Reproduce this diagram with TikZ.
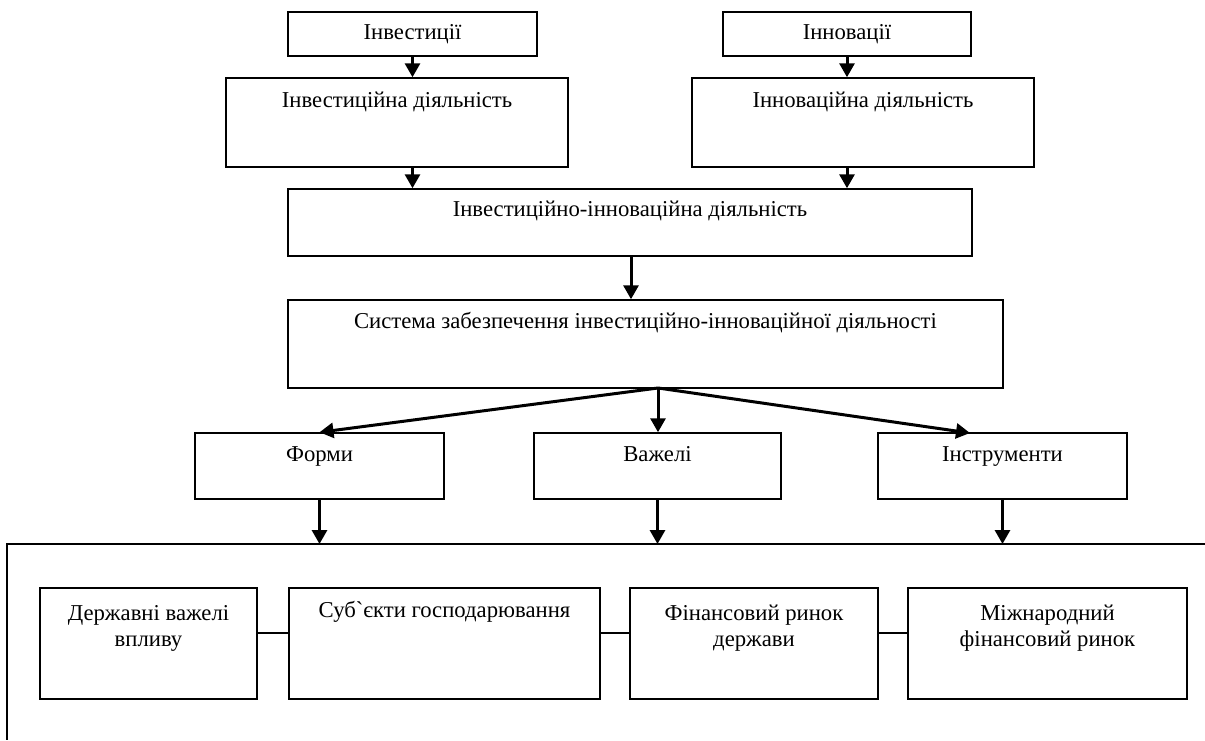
\documentclass[tikz,border=0pt]{standalone}
\usepackage{fontspec}
\setmainfont{Liberation Serif}
\newfontfamily\plainserif{Liberation Serif}
\usetikzlibrary{arrows.meta,calc}
\begin{document}
\begin{tikzpicture}[x=1pt,y=-1pt,
  box/.style={draw, line width=1.5pt, inner sep=0pt},
  lbl/.style={font=\fontsize{22.7}{26}\selectfont, align=center, inner sep=0pt},
  one/.style={lbl, text height=0.72em, text depth=0.22em},
  arr/.style={line width=3pt, -{Triangle[width=15pt,length=14pt]}},
  conn/.style={line width=1.5pt}]
\useasboundingbox[fill=white] (0,0) rectangle (1205,740);
% top row
\node[box, minimum width=249pt, minimum height=44pt] (inv) at (412.5,34) {};
\node[one] (invt) at (412.5,37) {Інвестиції};
\node[box, minimum width=248pt, minimum height=44pt] (inn) at (847,34) {};
\node[one] (innt) at (847,37) {Інновації};
% activity boxes
\node[box, minimum width=342pt, minimum height=89pt] (invd) at (397,122.5) {};
\node[one] (invdt) at (397,105) {Інвестиційна діяльність};
\node[box, minimum width=342pt, minimum height=89pt] (innd) at (863,122.5) {};
\node[one] (inndt) at (863,105) {Інноваційна діяльність};
% combined
\node[box, minimum width=684pt, minimum height=67pt] (ii) at (630,222.5) {};
\node[one] (iit) at (630,214) {Інвестиційно-інноваційна діяльність};
% system
\node[box, minimum width=715pt, minimum height=88pt] (sys) at (645.5,344) {};
\node[one] (syst) at (645.5,326) {Система забезпечення інвестиційно-інноваційної діяльності};
% forms/levers/instruments
\node[box, minimum width=249pt, minimum height=66pt] (forms) at (319.5,466) {};
\node[one] (formst) at (319.5,459) {Форми};
\node[box, minimum width=247pt, minimum height=66pt] (levers) at (657.5,466) {};
\node[one] (leverst) at (657.5,459) {Важелі};
\node[box, minimum width=249pt, minimum height=66pt] (instr) at (1002.5,466) {};
\node[one] (instrt) at (1002.5,459) {Інструменти};
% bottom boxes
\node[box, minimum width=217pt, minimum height=111pt] (b1) at (148.5,643.5) {};
\node[lbl] (b1t) at (148.5,628) {Державні важелі\\впливу};
\node[box, minimum width=311pt, minimum height=111pt] (b2) at (444.5,643.5) {};
\node[one] (b2t) at (444.5,615) {Суб{\plainserif`}єкти господарювання};
\node[box, minimum width=248pt, minimum height=111pt] (b3) at (754,643.5) {};
\node[lbl] (b3t) at (754,628) {Фінансовий ринок\\держави};
\node[box, minimum width=279pt, minimum height=111pt] (b4) at (1047.5,643.5) {};
\node[lbl] (b4t) at (1047.5,628) {Міжнародний\\фінансовий ринок};
% frame
\coordinate (ftr) at (1205,544);
\coordinate (ftl) at (7,544);
\coordinate (fbl) at (7,740);
\draw[conn] (ftr) -- (ftl) -- (fbl);
% arrows top
\draw[arr] (inv.south) -- (inv.south |- invd.north);
\draw[arr] (inn.south) -- (inn.south |- innd.north);
\draw[arr] (inv.south |- invd.south) -- (inv.south |- ii.north);
\draw[arr] (inn.south |- innd.south) -- (inn.south |- ii.north);
\coordinate (iiout) at (631,256);
\draw[arr] (iiout) -- (iiout |- sys.north);
% hub
\coordinate (hub) at (658,388);
\coordinate (instrin) at (970,433);
\draw[arr] (hub) -- (forms.north);
\draw[arr] (hub) -- (hub |- levers.north);
\draw[arr] (hub) -- (instrin);
% down to frame
\draw[arr] (forms.south) -- (forms.south |- ftl);
\draw[arr] (levers.south) -- (levers.south |- ftl);
\draw[arr] (instr.south) -- (instr.south |- ftl);
% connectors bottom
\draw[conn] ($(b1.east)+(0,-10.5)$) -- ($(b2.west)+(0,-10.5)$);
\draw[conn] ($(b2.east)+(0,-10.5)$) -- ($(b3.west)+(0,-10.5)$);
\draw[conn] ($(b3.east)+(0,-10.5)$) -- ($(b4.west)+(0,-10.5)$);
\end{tikzpicture}
\end{document}
